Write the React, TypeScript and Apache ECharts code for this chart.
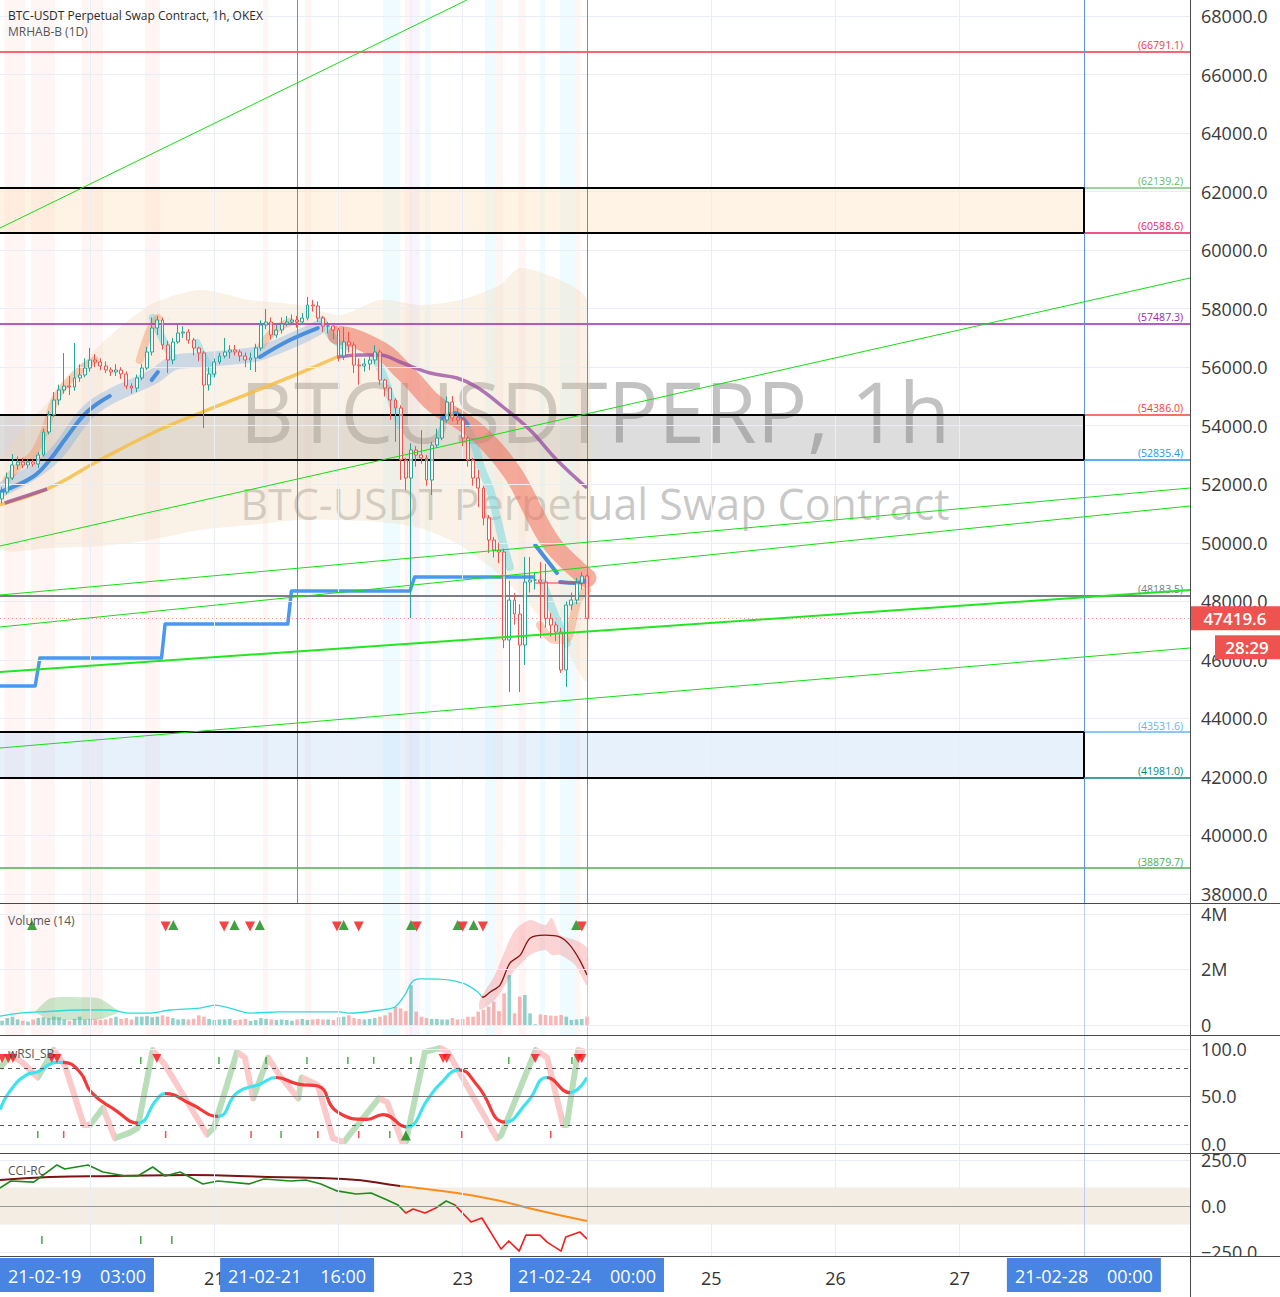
import React, { useEffect, useRef } from "react";
import * as echarts from "echarts";

const XMIN = -113.4;
const XMAX = 116.5;
const FONT = "'Open Sans', 'Noto Sans', 'DejaVu Sans', sans-serif";

// ---- candles: index k -> hour (k - 113) relative to 2021-02-24 00:00 ----
const firstOpen = 51500;
const closes = [
  51735, 52214, 52658, 52760, 52658, 52760, 52692, 52999, 53785, 54366,
  54879, 55221, 55357, 55323, 55631, 55733, 55972, 56246, 56178, 56041,
  55904, 55836, 55904, 55767, 55357, 55289, 55631, 55972, 56519, 57339,
  57613, 56758, 56246, 56861, 57169, 57203, 56929, 56656, 56485, 55392,
  55767, 56178, 56383, 56519, 56588, 56519, 56383, 56246, 56314, 56656,
  57442, 57544, 57100, 57271, 57476, 57544, 57613, 57544, 57681, 58126,
  58091, 57681, 57408, 57408, 57271, 56383, 56861, 56758, 56075, 56041,
  56109, 56246, 56519, 55562, 55289, 54879, 54606, 52829, 52214, 53170,
  52999, 52897, 52145, 53341, 53580, 54196, 54811, 54264, 54196, 53580,
  52829, 52214, 51872, 50847, 50095, 49753, 49685, 46680, 48045, 47566,
  46508, 48660, 48728, 48728, 48660, 47419, 47190, 46950, 45654, 47874,
  48045, 48626, 48865, 47419.6,
];
const highs = [
  51900, 52400, 53030, 52950, 52900, 52850, 52850, 53100, 53900, 54500,
  55150, 55400, 56480, 55700, 56827, 56100, 56300, 56656, 56450, 56300,
  56200, 56000, 56100, 56000, 55850, 55450, 55750, 56100, 56700, 57700,
  57750, 57700, 56900, 57000, 57510, 57400, 57300, 57000, 56700, 56550,
  56000, 56300, 56500, 57000, 56750, 56760, 56600, 56500, 56500, 56800,
  57600, 57990, 57700, 57450, 57700, 57750, 57800, 57750, 57850, 58400,
  58300, 58250, 57750, 57550, 57500, 57350, 57370, 57200, 56850, 56300,
  56300, 56400, 56750, 56600, 55600, 55300, 54950, 54700, 52900, 53400,
  53300, 53850, 53000, 53450, 53900, 54300, 55000, 55020, 54600, 54300,
  53650, 52900, 52490, 51950, 50950, 50200, 50000, 49800, 48700, 48285,
  47900, 49514, 49514, 49000, 49344, 49280, 47600, 47300, 47100, 48000,
  48300, 48800, 49000, 48900,
];
const lows = [
  51350, 51650, 52150, 52500, 52550, 52550, 52600, 52550, 52950, 53700,
  54300, 54700, 55100, 55050, 55200, 55500, 55650, 55850, 56000, 55900,
  55800, 55700, 55700, 55600, 55250, 55100, 55150, 55550, 55900, 56400,
  57100, 56600, 55800, 56100, 56800, 57000, 56800, 56400, 56200, 53922,
  55200, 55650, 56100, 56300, 56300, 56400, 56200, 56000, 55904, 55836,
  56550, 57300, 56950, 57000, 57150, 57400, 57450, 57350, 57450, 57600,
  57900, 57550, 57200, 57150, 56950, 56200, 56250, 56500, 55800, 55400,
  55850, 55900, 56100, 55400, 55000, 54200, 53450, 52150, 51800, 47430,
  52600, 52700, 51950, 51633, 53250, 53500, 54100, 54150, 54050, 53300,
  52600, 51950, 51220, 50600, 49650, 49500, 49300, 46400, 44900, 47200,
  44900, 45824, 48300, 48400, 46747, 47100, 46800, 46650, 45550, 45070,
  47700, 47900, 48400, 47419,
];
// volume in millions
const volumes = [
  0.15, 0.25, 0.3, 0.2, 0.15, 0.12, 0.2, 0.25, 0.28, 0.25,
  0.3, 0.28, 0.2, 0.15, 0.22, 0.3, 0.2, 0.22, 0.2, 0.18,
  0.2, 0.25, 0.3, 0.22, 0.25, 0.2, 0.3, 0.3, 0.32, 0.28,
  0.3, 0.35, 0.3, 0.25, 0.2, 0.22, 0.2, 0.22, 0.35, 0.3,
  0.22, 0.18, 0.2, 0.2, 0.22, 0.18, 0.2, 0.22, 0.15, 0.18,
  0.25, 0.22, 0.2, 0.18, 0.2, 0.18, 0.15, 0.2, 0.22, 0.18,
  0.2, 0.22, 0.2, 0.2, 0.18, 0.28, 0.3, 0.35, 0.25, 0.22,
  0.2, 0.22, 0.25, 0.3, 0.35, 0.45, 0.65, 0.6, 0.5, 1.44,
  0.48, 0.3, 0.25, 0.22, 0.22, 0.2, 0.2, 0.25, 0.2, 0.22,
  0.3, 0.3, 0.48, 0.55, 0.66, 0.84, 0.5, 1.14, 1.8, 0.42,
  1.02, 1.08, 0.42, 0.03, 0.38, 0.36, 0.34, 0.33, 0.36, 0.3,
  0.18, 0.2, 0.22, 0.3,
];

const lastPrice = 47419.6;
const countdown = "28:29";

// ---- axes ticks ----
const priceTicks = [38000, 40000, 42000, 44000, 46000, 48000, 50000, 52000, 54000, 56000, 58000, 60000, 62000, 64000, 66000, 68000];
const volumeTicks = [0, 2, 4];
const rsiTicks = [0, 50, 100];
const cciTicks = [-250, 0, 250];
const dayHours = [-96, -72, -48, -24, 0, 24, 48, 72, 96];
const dayLabels = [
  { h: -72, t: "21" },
  { h: -24, t: "23" },
  { h: 24, t: "25" },
  { h: 48, t: "26" },
  { h: 72, t: "27" },
];
const timeBoxes = [
  { h: -117, d: "21-02-19", t: "03:00" },
  { h: -56, d: "21-02-21", t: "16:00" },
  { h: 0, d: "21-02-24", t: "00:00" },
  { h: 96, d: "21-02-28", t: "00:00" },
];
const verticalMarks = [-56, 0, 96];

// ---- drawings ----
const levels = [
  { p: 66791.1, c: "#f23645", lc: "#f23645" },
  { p: 62139.2, c: "#7cc47f", lc: "#66bb6a" },
  { p: 60588.6, c: "#e91e63", lc: "#e91e63" },
  { p: 57487.3, c: "#9c27b0", lc: "#9c27b0" },
  { p: 54386.0, c: "#f44336", lc: "#f44336" },
  { p: 52835.4, c: "#2196f3", lc: "#2196f3" },
  { p: 48183.5, c: "#7d7f88", lc: "#787b86" },
  { p: 43531.6, c: "#64b5f6", lc: "#64b5f6" },
  { p: 41981.0, c: "#00897b", lc: "#00897b" },
  { p: 38879.7, c: "#4caf50", lc: "#4caf50" },
];
const zones = [
  { top: 62139.2, bottom: 60588.6, fill: "rgba(255,214,170,0.3)" },
  { top: 54386.0, bottom: 52835.4, fill: "rgba(150,150,150,0.32)" },
  { top: 43531.6, bottom: 41981.0, fill: "rgba(170,205,245,0.28)" },
];
const zoneEnd = 96;
const trendLines = [
  { a: [-113.4, 60756], b: [-23.2, 68547], w: 1 },
  { a: [-113.4, 49890], b: [116.5, 59048], w: 1 },
  { a: [-113.4, 48216], b: [116.5, 51872], w: 1 },
  { a: [-113.4, 47122], b: [116.5, 51257], w: 1 },
  { a: [-113.4, 45585], b: [116.5, 48387], w: 2 },
  { a: [-113.4, 42988], b: [116.5, 46405], w: 1 },
];

// ---- main-pane indicators ----
const blueStep = [
  [-113.4, 45107], [-106.6, 45107], [-105.7, 46063], [-82.2, 46063], [-81.5, 47225],
  [-57.8, 47225], [-57.1, 48352], [-34.2, 48352], [-33.3, 48831], [-10, 48831],
];
const mrhabBlue = [
  [[-113.4, 51735], [-107.1, 52248], [-103.8, 52829], [-100.5, 53615], [-96.6, 54469], [-92.2, 55016]],
  [[-84.1, 55562], [-82.9, 55836]],
  [[-63.2, 56348], [-57.4, 56929], [-52, 57339]],
  [[-28, 54264], [-25.5, 54435], [-23, 54025]],
  [[-10, 49924], [-5.8, 48967]],
  [[-5.2, 48660], [-2.3, 48626], [0, 48728]],
];
const mrhabBlueBand = [
  [-113.4, 51804], [-103.8, 52829], [-96.6, 54435], [-92.2, 54981], [-83.9, 55665], [-79.3, 56178],
  [-74.8, 56246], [-68.4, 56348], [-63.2, 56485], [-55.5, 57032], [-52, 57339],
];
const redBand = [
  [-48.3, 57100], [-45.2, 56998], [-42, 56758], [-38.6, 56417], [-36.1, 55972], [-32.9, 55392],
  [-30.3, 54879], [-27.8, 54538], [-24.5, 54196], [-21.3, 53785], [-18.7, 53341], [-16.2, 52829],
  [-13.5, 52145], [-11, 51291], [-8.5, 50437], [-6.6, 49924], [-4.3, 49480], [-1.4, 49002], [0, 48797],
];
const purpleSegs = [
  [[-112.5, 51360], [-104.3, 51838]],
  [[-48.3, 56348], [-43.9, 56417], [-40, 56417], [-36.1, 56178], [-30.3, 55801], [-25.1, 55631],
    [-21.3, 55323], [-16.2, 54640], [-11, 53854], [-5.8, 52829], [0, 51872]],
];
const yellowLine = [
  [-113.4, 51300], [-104.3, 51838], [-94.1, 52829], [-83.9, 53751], [-74.8, 54435], [-65.1, 55118],
  [-55.5, 55801], [-48.3, 56348],
];
const beigeUpper = [
  [-113.4, 52760], [-103.8, 54879], [-94.1, 56758], [-84.4, 58126], [-74.8, 58638], [-65.1, 58296],
  [-55.5, 58126], [-47.7, 57783], [-40, 58296], [-32.3, 58126], [-24.6, 58296], [-16.8, 58809],
  [-13, 59390], [-5.2, 58979], [0, 58296],
];
const beigeLower = [
  [-113.4, 49822], [-103.8, 49822], [-94.1, 49890], [-84.4, 50095], [-74.8, 50437], [-65.1, 50608],
  [-55.5, 50778], [-47.7, 50778], [-40, 50710], [-32.3, 50505], [-24.6, 49924], [-16.8, 48899],
  [-13, 48216], [-5.2, 46678], [0, 45312],
];
const cyanBands = [
  [[-83.9, 57681], [-81.9, 56929], [-80, 56348]],
  [[-75.4, 56827], [-73.8, 56246], [-72.3, 55801]],
  [[-51.2, 57613], [-49.1, 56998], [-46.8, 56690]],
  [[-41, 56348], [-39, 55562], [-37.7, 54811], [-36.1, 54025]],
  [[-23.2, 53956], [-21.6, 53273], [-20.3, 52487], [-18.7, 51804], [-17.4, 50881], [-16.2, 49993], [-14.9, 49173]],
  [[-8.5, 48626], [-6.2, 47532], [-3.9, 46576]],
];
const salmonBands = [
  [[-112.1, 52145], [-109.6, 52658], [-107.1, 52999], [-104.7, 53854], [-102.8, 54879], [-100.5, 55460], [-98, 55904], [-95.1, 56246]],
  [[-86.4, 56246], [-84.4, 57271], [-82.9, 57681]],
  [[-62.8, 56758], [-60.3, 57271], [-57.4, 57544]],
  [[-9.1, 47190], [-6.2, 46678], [-4.3, 46678], [-1.7, 48045], [0, 48387]],
];
const sessionPink = [[-112.5, -108.6], [-107.4, -102.8], [-97.6, -93.5], [-85.4, -82.5], [-62.6, -61.6], [-54.5, -53.3], [-35.2, -33.9], [-17.8, -16.2], [-13.2, -11.8], [-2.3, -1.3]];
const sessionCyan = [[-39.4, -36.1], [-31.3, -30.3], [-19.7, -17.8], [-9.1, -8.1], [-5.2, -2.3]];
const sessionLav = [[-34.2, -32.3]];

// ---- volume pane ----
const volMA = [
  [-113.4, 0.32], [-109.6, 0.43], [-105.7, 0.47], [-98, 0.54], [-92.2, 0.54], [-88.3, 0.43], [-84.4, 0.43],
  [-80.6, 0.54], [-74.8, 0.61], [-71.9, 0.72], [-69, 0.61], [-65.1, 0.43], [-59.3, 0.47], [-47.7, 0.47],
  [-45.8, 0.43], [-40, 0.54], [-37.1, 0.65], [-35.2, 1.08], [-33.8, 1.55], [-32.3, 1.66], [-26.5, 1.62],
  [-23.6, 1.48], [-21.1, 1.19], [-20.1, 1.0], [-18.7, 1.19], [-16.8, 1.44], [-14.9, 2.23], [-12.9, 2.52],
  [-11, 3.13], [-8.1, 3.24], [-5.2, 3.17], [-3.3, 2.88], [-1.4, 2.34], [0, 1.8],
];
const volGreenUpper = [[-106.7, 0.47], [-103.8, 0.95], [-98, 1.0], [-94.1, 0.95], [-90.2, 0.47]];
const volGreenLower = [[-106.7, 0.47], [-103.8, 0.2], [-98, 0.18], [-94.1, 0.2], [-90.2, 0.47]];
const volPinkUpper = [[-20.7, 0.9], [-17.8, 1.8], [-15.8, 2.7], [-13.9, 3.42], [-11, 3.78], [-8.1, 3.6], [-6.8, 3.86], [-5.2, 3.24], [-2.3, 3.06], [0, 2.77]];
const volPinkLower = [[-20.7, 0.54], [-17.8, 0.9], [-15.8, 1.44], [-13.9, 1.98], [-11, 2.52], [-8.1, 2.7], [-6.8, 2.52], [-5.2, 2.52], [-2.3, 2.16], [0, 1.44]];
const volUpMarks = [-107.2, -79.9, -68.1, -63.2, -47, -34, -25, -21.9, -2.1];
const volDownMarks = [-81.4, -70.1, -65.1, -48.3, -44.1, -32.9, -24, -20.1, -1];

// ---- wRSI_SB pane ----
const rsiMain = [
  [-113.4, 36], [-111.3, 57], [-108.2, 73], [-106.1, 76], [-102.4, 86], [-101.3, 86], [-98, 76], [-95.7, 54],
  [-91.2, 36], [-86.8, 22], [-83.1, 47], [-81.5, 53], [-76.5, 42], [-71.3, 29], [-67.6, 54], [-63.2, 63],
  [-60.1, 70], [-55.8, 63], [-52, 61], [-48.3, 34], [-42.5, 26], [-39.4, 31], [-35, 18], [-30.5, 49],
  [-28.4, 63], [-24.7, 78], [-21.1, 61], [-15.8, 23], [-11.4, 45], [-7.7, 70], [-3.3, 54], [0, 70],
];
const rsiMainFalling = [[-101.3, -86.8], [-81.5, -71.3], [-60.1, -35], [-24.7, -15.8], [-7.7, -3.3]];
const rsiZig = [
  [-113.4, 80], [-111.3, 94], [-108.9, 85], [-106.1, 70], [-103, 99], [-100.9, 83], [-97.2, 20], [-96, 20],
  [-93.5, 38], [-91.2, 6], [-88.3, 12], [-86.8, 17], [-83.9, 99], [-81.5, 83], [-73.4, 10], [-72.1, 17],
  [-67.6, 97], [-66.1, 91], [-64.5, 48], [-61.6, 91], [-59.5, 73], [-55.8, 48], [-55.1, 70], [-52, 62],
  [-49.1, 6], [-47, 2], [-40.2, 48], [-38.6, 44], [-35.7, 2], [-35, 2], [-31.3, 97], [-28.4, 101],
  [-26.9, 97], [-17.4, 6], [-16.6, 9], [-9.9, 99], [-7.7, 91], [-4.6, 20], [-3.9, 20], [-1.7, 99], [-0.4, 97],
];
const rsiZigRising = [[-113.4, -111.3], [-106.1, -103], [-96, -93.5], [-91.2, -83.9], [-73.4, -67.6], [-64.5, -61.6], [-55.8, -55.1], [-47, -40.2], [-35, -28.4], [-17.4, -9.9], [-4.6, -1.7]];
const rsiDownMarks = [-113, -111.8, -110.9, -103.4, -102.4, -83.1, -27.8, -27.1, -10, -1.7, -1];
const rsiUpMarks = [-35];
const rsiTopGreenTicks = [-86.2, -71.1, -62, -54.1, -46.2, -41.2, -34, -15.1, -2.9];
const rsiBottomGreenTicks = [-106.1, -59.1, -38.1];
const rsiBottomRedTicks = [-101.1, -81.4, -64.9, -52, -44.1, -24.2, -7];

// ---- CCI-RC pane ----
const cciFast = [
  [-113.4, 98], [-111.3, 136], [-106.9, 130], [-105.3, 163], [-102.4, 223], [-100.9, 201], [-96.4, 223],
  [-93.5, 185], [-89.1, 163], [-86.8, 163], [-83.9, 212], [-81.5, 163], [-78.6, 185], [-74.2, 120],
  [-71.3, 136], [-65.3, 120], [-62.4, 147], [-57.2, 136], [-54.3, 141], [-51.4, 120], [-48.3, 82],
  [-44.6, 65], [-41.7, 71], [-38.6, 33], [-36.5, 5], [-35, -38], [-33.6, -16], [-31.3, -38], [-29.2, -11],
  [-27.2, 27], [-25.5, 5], [-22.4, -87], [-20.3, -65], [-16.6, -234], [-15.1, -190], [-13.1, -245],
  [-11.8, -158], [-9.1, -158], [-7.7, -196], [-5, -245], [-4.1, -168], [-1.4, -141], [0, -179],
];
const cciFastRed = [[-35.6, -29.2], [-25.6, 1]];
const cciSlow = [
  [-113.4, 141], [-103.8, 158], [-91.2, 163], [-76.5, 168], [-61.6, 158], [-47, 147], [-36.1, 109],
  [-25.1, 71], [-17.6, 33], [-9.7, -22], [0, -82],
];
const cciSlowOrangeFrom = -36.1;
const cciMarks = [-105.3, -86.2, -80.2];

function bandSeries(xi: number, upper: number[][], lower: number[][], fill: string, z: number) {
  return {
    type: "custom",
    xAxisIndex: xi,
    yAxisIndex: xi,
    z,
    silent: true,
    clip: true,
    data: [upper[0]],
    encode: { x: 0, y: 1 },
    renderItem: (_p: any, api: any) => {
      const pts = upper.map((p) => api.coord(p)).concat(lower.slice().reverse().map((p) => api.coord(p)));
      return { type: "polygon", shape: { points: pts, smooth: 0.25 }, style: { fill } };
    },
  };
}

function buildOption() {
  const series: any[] = [];
  const add = (s: any) => {
    series.push(s);
    return series.length - 1;
  };
  const gridColor = "#e9eef5";
  const gl = (ys: number[], xs: number[]) => [
    ...ys.map((v) => ({ yAxis: v })),
    ...xs.map((v) => ({ xAxis: v })),
  ];
  const sessionAreas = () => [
    ...sessionPink.map((b) => [{ xAxis: b[0], itemStyle: { color: "rgba(255,90,90,0.06)" } }, { xAxis: b[1] }]),
    ...sessionCyan.map((b) => [{ xAxis: b[0], itemStyle: { color: "rgba(80,225,255,0.09)" } }, { xAxis: b[1] }]),
    ...sessionLav.map((b) => [{ xAxis: b[0], itemStyle: { color: "rgba(130,110,255,0.08)" } }, { xAxis: b[1] }]),
  ];
  const paneBg = (i: number, ys: number[], extraLines: any[] = [], areas: any[] = []) =>
    add({
      type: "line",
      xAxisIndex: i,
      yAxisIndex: i,
      z: 0,
      silent: true,
      symbol: "none",
      data: [[XMIN - 50, 0]],
      markLine: {
        silent: true,
        symbol: ["none", "none"],
        label: { show: false },
        lineStyle: { color: gridColor, width: 1, type: "solid" },
        data: [...gl(ys, dayHours), ...extraLines],
      },
      markArea: { silent: true, data: areas },
    });

  // ---------- main pane ----------
  paneBg(0, priceTicks, [], sessionAreas());
  // zone fills (below)
  add({
    type: "line",
    xAxisIndex: 0,
    yAxisIndex: 0,
    z: 1,
    silent: true,
    symbol: "none",
    data: [[XMIN - 50, 0]],
    markArea: {
      silent: true,
      data: zones.map((zn) => [
        { xAxis: XMIN - 10, yAxis: zn.top, itemStyle: { color: zn.fill } },
        { xAxis: zoneEnd, yAxis: zn.bottom },
      ]),
    },
  });
  add(bandSeries(0, beigeUpper, beigeLower, "rgba(240,215,180,0.32)", 3));
  add({
    type: "line", xAxisIndex: 0, yAxisIndex: 0, z: 3, silent: true, symbol: "none", smooth: 0.4,
    data: mrhabBlueBand, lineStyle: { color: "rgba(120,170,225,0.35)", width: 15, cap: "round", join: "round" },
  });
  cyanBands.forEach((seg) =>
    add({
      type: "line", xAxisIndex: 0, yAxisIndex: 0, z: 3, silent: true, symbol: "none", smooth: 0.4,
      data: seg, lineStyle: { color: "rgba(110,215,228,0.5)", width: 8, cap: "round", join: "round" },
    })
  );
  salmonBands.forEach((seg) =>
    add({
      type: "line", xAxisIndex: 0, yAxisIndex: 0, z: 3, silent: true, symbol: "none", smooth: 0.4,
      data: seg, lineStyle: { color: "rgba(245,150,105,0.45)", width: 8, cap: "round", join: "round" },
    })
  );
  add({
    type: "line", xAxisIndex: 0, yAxisIndex: 0, z: 4, silent: true, symbol: "none", smooth: 0.4,
    data: redBand, lineStyle: { color: "rgba(240,110,90,0.55)", width: 19, cap: "round", join: "round" },
  });
  add({
    type: "line", xAxisIndex: 0, yAxisIndex: 0, z: 4, silent: true, symbol: "none", smooth: 0.4,
    data: yellowLine, lineStyle: { color: "rgba(245,190,70,0.85)", width: 3.5 },
  });
  purpleSegs.forEach((seg) =>
    add({
      type: "line", xAxisIndex: 0, yAxisIndex: 0, z: 4, silent: true, symbol: "none", smooth: 0.4,
      data: seg, lineStyle: { color: "rgba(150,75,160,0.75)", width: 3.5 },
    })
  );
  add({
    type: "line", xAxisIndex: 0, yAxisIndex: 0, z: 4, silent: true, symbol: "none",
    data: blueStep, lineStyle: { color: "#4a98ef", width: 3.5, join: "round" },
  });
  mrhabBlue.forEach((seg) =>
    add({
      type: "line", xAxisIndex: 0, yAxisIndex: 0, z: 4, silent: true, symbol: "none", smooth: 0.4,
      data: seg, lineStyle: { color: "#4a8fdc", width: 4, cap: "round" },
    })
  );
  add({
    type: "line", xAxisIndex: 0, yAxisIndex: 0, z: 4, silent: true, symbol: "none",
    data: [[-10, 48626], [0, 48626]], lineStyle: { color: "#f23645", width: 1.2 },
  });

  const candleData = closes.map((c, k) => {
    const o = k === 0 ? firstOpen : closes[k - 1];
    return [k - 113, o, c, lows[k], highs[k]];
  });
  add({
    type: "candlestick",
    xAxisIndex: 0,
    yAxisIndex: 0,
    z: 6,
    silent: true,
    barWidth: 3.4,
    encode: { x: 0, y: [1, 2, 3, 4] },
    data: candleData,
    itemStyle: {
      color: "rgba(255,255,255,0.7)",
      color0: "rgba(255,255,255,0.55)",
      borderColor: "#26a69a",
      borderColor0: "#ef5350",
      borderWidth: 1,
    },
  });

  trendLines.forEach((t) =>
    add({
      type: "line", xAxisIndex: 0, yAxisIndex: 0, z: 7, silent: true, symbol: "none",
      data: [t.a, t.b], lineStyle: { color: t.w > 1 ? "#22e622" : "#12e012", width: t.w },
    })
  );
  add({
    type: "line",
    xAxisIndex: 0,
    yAxisIndex: 0,
    z: 7,
    silent: true,
    symbol: "none",
    data: [[XMIN - 50, 0]],
    markLine: {
      silent: true,
      symbol: ["none", "none"],
      data: [
        ...levels.map((l) => ({
          yAxis: l.p,
          lineStyle: { color: l.c, width: l.p === 48183.5 ? 2 : 1.6, type: "solid" },
          label: {
            show: true,
            position: "insideEndTop",
            formatter: "(" + l.p.toFixed(1) + ")",
            color: l.lc,
            fontSize: 10.5,
            fontFamily: FONT,
            distance: [7, 1],
          },
        })),
        ...verticalMarks.map((h) => ({
          xAxis: h,
          lineStyle: { color: "#5f8fe8", width: 1, type: "solid" },
          label: { show: false },
        })),
        {
          yAxis: lastPrice,
          lineStyle: { color: "rgba(239,83,80,0.6)", width: 1, type: [1, 3] },
          label: { show: false },
        },
      ],
    },
  });
  // zone borders (top, bottom, right edge) on top of level lines
  const borderSegs: any[] = [];
  zones.forEach((zn) => {
    borderSegs.push([{ coord: [XMIN, zn.top] }, { coord: [zoneEnd, zn.top] }]);
    borderSegs.push([{ coord: [XMIN, zn.bottom] }, { coord: [zoneEnd, zn.bottom] }]);
    borderSegs.push([{ coord: [zoneEnd, zn.top] }, { coord: [zoneEnd, zn.bottom] }]);
  });
  add({
    type: "line",
    xAxisIndex: 0,
    yAxisIndex: 0,
    z: 8,
    silent: true,
    symbol: "none",
    data: [[XMIN - 50, 0]],
    markLine: {
      silent: true,
      symbol: ["none", "none"],
      label: { show: false },
      lineStyle: { color: "#000", width: 2, type: "solid" },
      data: borderSegs,
    },
  });

  // ---------- volume pane ----------
  paneBg(1, volumeTicks, verticalMarks.slice(1).map((h) => ({ xAxis: h, lineStyle: { color: "rgba(110,150,230,0.35)" } })), sessionAreas());
  add(bandSeries(1, volGreenUpper, volGreenLower, "rgba(110,185,110,0.35)", 2));
  add(bandSeries(1, volPinkUpper, volPinkLower, "rgba(245,120,120,0.32)", 2));
  add({
    type: "bar",
    xAxisIndex: 1,
    yAxisIndex: 1,
    z: 3,
    silent: true,
    barWidth: 3.6,
    data: volumes.map((v, k) => {
      const o = k === 0 ? firstOpen : closes[k - 1];
      const up = closes[k] >= o;
      return { value: [k - 113, v], itemStyle: { color: up ? "rgba(38,166,154,0.5)" : "rgba(239,83,80,0.42)" } };
    }),
  });
  const volMAIdx = add({
    type: "line", xAxisIndex: 1, yAxisIndex: 1, z: 4, silent: true, symbol: "none", smooth: 0.3,
    data: volMA, lineStyle: { width: 1.3 },
  });
  add({
    type: "scatter", xAxisIndex: 1, yAxisIndex: 1, z: 5, silent: true, symbol: "triangle", symbolSize: 10,
    data: volUpMarks.map((h) => [h, 3.6]), itemStyle: { color: "#138a13" },
  });
  add({
    type: "scatter", xAxisIndex: 1, yAxisIndex: 1, z: 5, silent: true, symbol: "triangle", symbolSize: 10, symbolRotate: 180,
    data: volDownMarks.map((h) => [h, 3.55]), itemStyle: { color: "#f21414" },
  });

  // ---------- wRSI_SB pane ----------
  paneBg(2, rsiTicks, [
    { yAxis: 80, lineStyle: { color: "#555", type: [4, 4] } },
    { yAxis: 20, lineStyle: { color: "#555", type: [4, 4] } },
    { yAxis: 50, lineStyle: { color: "#777" } },
    ...verticalMarks.slice(1).map((h) => ({ xAxis: h, lineStyle: { color: "rgba(110,150,230,0.35)" } })),
  ]);
  const rsiZigIdx = add({
    type: "line", xAxisIndex: 2, yAxisIndex: 2, z: 2, silent: true, symbol: "none",
    data: rsiZig, lineStyle: { width: 6, join: "round" },
  });
  const rsiMainIdx = add({
    type: "line", xAxisIndex: 2, yAxisIndex: 2, z: 4, silent: true, symbol: "none", smooth: 0.5,
    data: rsiMain, lineStyle: { width: 3.2 },
  });
  add({
    type: "scatter", xAxisIndex: 2, yAxisIndex: 2, z: 5, silent: true, symbol: "triangle", symbolSize: 9, symbolRotate: 180,
    data: rsiDownMarks.map((h) => [h, 90]), itemStyle: { color: "#f21414" },
  });
  add({
    type: "scatter", xAxisIndex: 2, yAxisIndex: 2, z: 5, silent: true, symbol: "triangle", symbolSize: 10,
    data: rsiUpMarks.map((h) => [h, 9]), itemStyle: { color: "#138a13" },
  });
  add({
    type: "scatter", xAxisIndex: 2, yAxisIndex: 2, z: 5, silent: true, symbol: "rect", symbolSize: [1.5, 7],
    data: [...rsiTopGreenTicks.map((h) => [h, 88]), ...rsiBottomGreenTicks.map((h) => [h, 10])], itemStyle: { color: "#1c9a1c" },
  });
  add({
    type: "scatter", xAxisIndex: 2, yAxisIndex: 2, z: 5, silent: true, symbol: "rect", symbolSize: [1.5, 7],
    data: rsiBottomRedTicks.map((h) => [h, 10]), itemStyle: { color: "#f02020" },
  });

  // ---------- CCI-RC pane ----------
  paneBg(3, cciTicks, [
    { yAxis: 0, lineStyle: { color: "#999" } },
    ...verticalMarks.slice(1).map((h) => ({ xAxis: h, lineStyle: { color: "rgba(110,150,230,0.35)" } })),
  ]);
  add({
    type: "line", xAxisIndex: 3, yAxisIndex: 3, z: 1, silent: true, symbol: "none",
    data: [[XMIN - 50, 0]],
    markArea: {
      silent: true,
      data: [[{ yAxis: 100, xAxis: XMIN, itemStyle: { color: "rgba(225,210,185,0.4)" } }, { yAxis: -100, xAxis: XMAX }]],
    },
  });
  const cciSlowIdx = add({
    type: "line", xAxisIndex: 3, yAxisIndex: 3, z: 3, silent: true, symbol: "none", smooth: 0.5,
    data: cciSlow, lineStyle: { width: 2 },
  });
  const cciFastIdx = add({
    type: "line", xAxisIndex: 3, yAxisIndex: 3, z: 4, silent: true, symbol: "none",
    data: cciFast, lineStyle: { width: 1.6, join: "round" },
  });
  add({
    type: "scatter", xAxisIndex: 3, yAxisIndex: 3, z: 5, silent: true, symbol: "rect", symbolSize: [1.5, 8],
    data: cciMarks.map((h) => [h, -185]), itemStyle: { color: "#1c8a1c" },
  });

  const visualMap = [
    {
      type: "piecewise", show: false, dimension: 0, seriesIndex: rsiMainIdx,
      pieces: rsiMainFalling.map((r) => ({ gte: r[0], lt: r[1], color: "#f23a3a" })),
      outOfRange: { color: "#3fe3ee" },
    },
    {
      type: "piecewise", show: false, dimension: 0, seriesIndex: rsiZigIdx,
      pieces: rsiZigRising.map((r) => ({ gte: r[0], lt: r[1], color: "rgba(90,175,90,0.42)" })),
      outOfRange: { color: "rgba(245,120,120,0.4)" },
    },
    {
      type: "piecewise", show: false, dimension: 0, seriesIndex: cciFastIdx,
      pieces: cciFastRed.map((r) => ({ gte: r[0], lt: r[1], color: "#f41c1c" })),
      outOfRange: { color: "#1e8a1e" },
    },
    {
      type: "piecewise", show: false, dimension: 0, seriesIndex: cciSlowIdx,
      pieces: [{ gte: cciSlowOrangeFrom, lte: 1, color: "#ff8c1a" }],
      outOfRange: { color: "#7a1414" },
    },
    {
      type: "piecewise", show: false, dimension: 0, seriesIndex: volMAIdx,
      pieces: [{ gte: -20.3, lte: 1, color: "#8b1212" }],
      outOfRange: { color: "#2fd8dc" },
    },
  ];

  const grids = [
    { left: 0, right: 90, top: 0, height: 903 },
    { left: 0, right: 90, top: 903, height: 132 },
    { left: 0, right: 90, top: 1036, height: 117 },
    { left: 0, right: 90, top: 1154, height: 102 },
  ];
  const yAx = (i: number, min: number, max: number, ticks: number[], fmt: (v: number) => string) => ({
    type: "value",
    gridIndex: i,
    min,
    max,
    position: "right",
    axisLine: { show: false },
    splitLine: { show: false },
    axisTick: { show: true, customValues: ticks, length: 5, lineStyle: { color: "#555" } },
    axisLabel: { show: true, customValues: ticks, formatter: fmt, color: "#3a3a3a", fontSize: 18, fontFamily: FONT, margin: 11 },
  });

  return {
    animation: false,
    backgroundColor: "#ffffff",
    grid: grids,
    xAxis: grids.map((_, i) => ({ type: "value", gridIndex: i, min: XMIN, max: XMAX, show: false })),
    yAxis: [
      yAx(0, 37692, 68547, priceTicks, (v) => v.toFixed(1)),
      yAx(1, -0.36, 4.396, volumeTicks, (v) => (v === 0 ? "0" : v + "M")),
      yAx(2, -9.5, 113.7, rsiTicks, (v) => v.toFixed(1)),
      yAx(3, -271.7, 282.6, cciTicks, (v) => (v < 0 ? "\u2212" + Math.abs(v).toFixed(1) : v.toFixed(1))),
    ],
    visualMap,
    series,
  };
}

function buildGraphics(chart: any) {
  const px = (h: number) => chart.convertToPixel({ xAxisIndex: 3 }, h) as number;
  const py = (v: number) => chart.convertToPixel({ yAxisIndex: 0 }, v) as number;
  const els: any[] = [];
  const txt = (x: number, y: number, t: string, st: any, z: number) =>
    els.push({
      type: "text", x, y, z, silent: true,
      style: { text: t, fontFamily: FONT, textAlign: st.align || "left", align: st.align || "left", textVerticalAlign: "middle", verticalAlign: "middle", ...st },
    });

  // watermark
  txt(595, 410, "BTCUSDTPERP, 1h", { fontSize: 84, fill: "rgba(110,110,110,0.42)", align: "center" }, 2);
  txt(595, 503, "BTC-USDT Perpetual Swap Contract", { fontSize: 43, fill: "rgba(110,110,110,0.38)", align: "center" }, 2);

  // titles
  txt(8, 15, "BTC-USDT Perpetual Swap Contract, 1h, OKEX", { fontSize: 12, fill: "#2b2b2b" }, 50);
  txt(8, 31, "MRHAB-B (1D)", { fontSize: 12, fill: "#555" }, 50);
  txt(8, 920, "Volume (14)", { fontSize: 12, fill: "#555" }, 50);
  txt(8, 1053, "wRSI_SB", { fontSize: 12, fill: "#555" }, 50);
  txt(8, 1170, "CCI-RC", { fontSize: 12, fill: "#555" }, 50);

  // bottom area cover
  els.push({ type: "rect", z: 70, silent: true, shape: { x: 0, y: 1257, width: 1280, height: 40 }, style: { fill: "#ffffff" } });

  // separators and axis line
  [903.5, 1035.5, 1153.5, 1256.5].forEach((y) =>
    els.push({ type: "line", z: 75, silent: true, shape: { x1: 0, y1: y, x2: 1280, y2: y }, style: { stroke: "#4a4a4a", lineWidth: 1 } })
  );
  els.push({ type: "line", z: 75, silent: true, shape: { x1: 1190.5, y1: 0, x2: 1190.5, y2: 1297 }, style: { stroke: "#4a4a4a", lineWidth: 1 } });

  // day labels
  dayLabels.forEach((d) => txt(px(d.h), 1278, d.t, { fontSize: 18, fill: "#333", align: "center" }, 71));
  // highlighted time boxes
  timeBoxes.forEach((b) => {
    const cx = px(b.h);
    const left = Math.max(0, cx - 77);
    els.push({ type: "rect", z: 72, silent: true, shape: { x: left, y: 1258, width: 154, height: 34 }, style: { fill: "#4884e2" } });
    txt(left + 8, 1276, b.d, { fontSize: 18, fill: "#ffffff" }, 73);
    txt(left + 146, 1276, b.t, { fontSize: 18, fill: "#ffffff", align: "right" }, 73);
  });

  // last price tag
  const ty = py(lastPrice);
  els.push({ type: "rect", z: 80, silent: true, shape: { x: 1191, y: ty - 12, width: 89, height: 24 }, style: { fill: "#ef5350" } });
  txt(1235, ty, lastPrice.toFixed(1), { fontSize: 17, fill: "#ffffff", align: "center", fontWeight: 600 }, 81);
  els.push({ type: "rect", z: 80, silent: true, shape: { x: 1215, y: ty + 17, width: 65, height: 24 }, style: { fill: "#ef5350" } });
  txt(1247, ty + 29, countdown, { fontSize: 17, fill: "#ffffff", align: "center", fontWeight: 600 }, 81);

  return { elements: els };
}

export default function App() {
  const ref = useRef<HTMLDivElement>(null);
  useEffect(() => {
    const chart = echarts.init(ref.current as HTMLDivElement, undefined, { renderer: "svg" });
    chart.setOption(buildOption() as any);
    chart.setOption({ graphic: buildGraphics(chart) } as any);
    return () => chart.dispose();
  }, []);
  return (
    <div
      ref={ref}
      style={{ position: "absolute", left: 0, top: 0, width: 1280, height: 1297, background: "#fff" }}
    />
  );
}
